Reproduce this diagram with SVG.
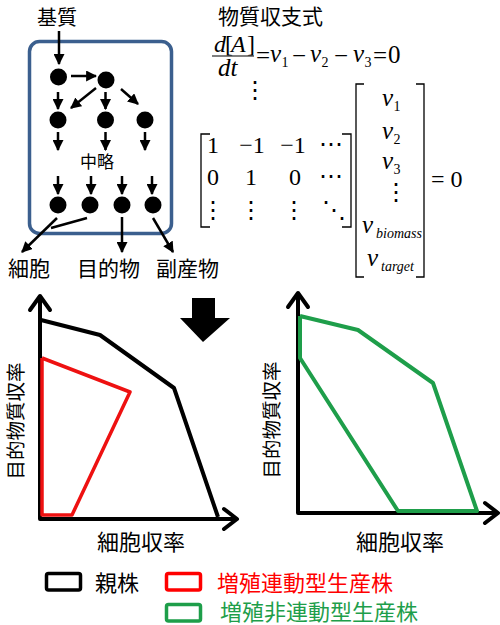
<svg xmlns="http://www.w3.org/2000/svg" width="500" height="625" viewBox="0 0 500 625">
<defs>
<marker id="ah" markerUnits="userSpaceOnUse" markerWidth="11" markerHeight="11" viewBox="0 0 10 10" refX="9" refY="5" orient="auto">
<path d="M0,0 L10,5 L0,10 Z" fill="#000"/>
</marker>
</defs>
<style>
.jp{font-family:"Noto Sans CJK JP","Noto Sans",sans-serif;fill:#000}
.m{font-family:"Liberation Serif","Times New Roman",serif;fill:#000}
.i{font-style:italic}
.ar{stroke:#000;stroke-width:2.5;fill:none;marker-end:url(#ah)}
.ln{stroke:#000;stroke-width:2.5;fill:none}
.nd{fill:#000}
.ax{stroke:#000;stroke-width:4;fill:none;stroke-linecap:round;stroke-linejoin:round}
.br{stroke:#000;stroke-width:1.3;fill:none}
</style>

<!-- Network -->
<g id="cell-box"><rect x="29.5" y="41.5" width="142" height="192" rx="10" fill="none" stroke="#3b5f8e" stroke-width="3.5"/></g>
<g id="label-substrate"><text class="jp" x="37" y="25" font-size="20">基質</text></g>
<g id="nodes">
<circle id="n1" class="nd" cx="58.5" cy="77" r="8.5"/>
<circle id="n2" class="nd" cx="106" cy="80" r="8.5"/>
<circle id="n3" class="nd" cx="58" cy="120" r="8.5"/>
<circle id="n4" class="nd" cx="105.5" cy="120" r="8.5"/>
<circle id="n5" class="nd" cx="145" cy="120" r="8.5"/>
<circle id="n6" class="nd" cx="58" cy="205" r="8.5"/>
<circle id="n7" class="nd" cx="90" cy="205" r="8.5"/>
<circle id="n8" class="nd" cx="122" cy="205" r="8.5"/>
<circle id="n9" class="nd" cx="153" cy="205" r="8.5"/>
</g>
<g id="label-omit"><text class="jp" x="97" y="168" font-size="17" text-anchor="middle">中略</text></g>
<g id="connectors">
<line class="ar" x1="59" y1="31" x2="59" y2="64"/>
<line class="ar" x1="71" y1="76" x2="96" y2="76"/>
<line class="ar" x1="58" y1="92" x2="58" y2="109"/>
<line class="ar" x1="96" y1="88" x2="71" y2="108"/>
<line class="ar" x1="105.5" y1="92" x2="105.5" y2="109"/>
<line class="ar" x1="121" y1="89" x2="138" y2="104"/>
<line class="ar" x1="58" y1="132" x2="58" y2="150"/>
<line class="ar" x1="105.5" y1="132" x2="105.5" y2="150"/>
<line class="ar" x1="145" y1="132" x2="145" y2="150"/>
<line class="ar" x1="58" y1="176" x2="58" y2="194"/>
<line class="ar" x1="91" y1="176" x2="91" y2="194"/>
<line class="ar" x1="122" y1="176" x2="122" y2="194"/>
<line class="ar" x1="152" y1="176" x2="152" y2="194"/>
<line class="ar" x1="57" y1="218" x2="22" y2="252"/>
<line class="ln" x1="87" y1="218" x2="51" y2="228"/>
<line class="ar" x1="122" y1="217" x2="122" y2="252"/>
<line class="ar" x1="153" y1="218" x2="173" y2="252"/>
</g>
<g id="outputs">
<text class="jp" x="8" y="276" font-size="21">細胞</text>
<text class="jp" x="77" y="276" font-size="21">目的物</text>
<text class="jp" x="156" y="276" font-size="21">副産物</text>
</g>

<!-- Equations -->
<g id="mass-balance">
<text class="jp" x="218" y="24" font-size="21">物質収支式</text>
<text class="m" font-size="24"><tspan class="i" x="214" y="52">d</tspan><tspan x="225" y="52">[</tspan><tspan class="i" x="231" y="52">A</tspan><tspan x="247" y="52">]</tspan></text>
<line x1="212" y1="56" x2="254" y2="56" stroke="#000" stroke-width="1.2"/>
<text class="m i" x="218" y="76" font-size="25">dt</text>
<text class="m" font-size="25">
<tspan x="256" y="64">=</tspan>
<tspan class="i" x="270" y="62">v</tspan><tspan x="281.5" y="67" font-size="14">1</tspan>
<tspan x="292" y="64">−</tspan>
<tspan class="i" x="310" y="62">v</tspan><tspan x="321.5" y="67" font-size="14">2</tspan>
<tspan x="334" y="64">−</tspan>
<tspan class="i" x="353" y="62">v</tspan><tspan x="364.5" y="67" font-size="14">3</tspan>
<tspan x="373" y="64">=</tspan>
<tspan x="388" y="63">0</tspan>
</text>
<text class="m" x="255" y="98" font-size="24" text-anchor="middle">⋮</text>
</g>
<g id="matrix">
<path class="br" d="M210,134 H201 V227 H210"/>
<path class="br" d="M342,134 H351 V227 H342"/>
<text class="m" font-size="24" text-anchor="middle">
<tspan x="213" y="153">1</tspan><tspan x="252" y="153">−1</tspan><tspan x="293" y="153">−1</tspan><tspan x="334" y="152">⋯</tspan>
<tspan x="213" y="185">0</tspan><tspan x="251" y="185">1</tspan><tspan x="295" y="185">0</tspan><tspan x="334" y="184">⋯</tspan>
<tspan x="213" y="218">⋮</tspan><tspan x="251" y="218">⋮</tspan><tspan x="294" y="218">⋮</tspan><tspan x="334" y="218">⋱</tspan>
</text>
</g>
<g id="vector">
<path class="br" d="M364,84 H356 V277 H364"/>
<path class="br" d="M416,84 H424 V277 H416"/>
<text class="m" font-size="25">
<tspan class="i" x="382" y="106">v</tspan><tspan x="393.5" y="111" font-size="14">1</tspan>
<tspan class="i" x="382" y="139">v</tspan><tspan x="393.5" y="144" font-size="14">2</tspan>
<tspan class="i" x="382" y="169">v</tspan><tspan x="393.5" y="174" font-size="14">3</tspan>
<tspan x="384" y="200" font-size="24">⋮</tspan>
<tspan class="i" x="362" y="233">v</tspan><tspan class="i" x="376" y="238" font-size="14">biomass</tspan>
<tspan class="i" x="367" y="266">v</tspan><tspan class="i" x="381" y="271" font-size="14">target</tspan>
</text>
<text class="m" x="431" y="187" font-size="24">= 0</text>
</g>

<!-- Big arrow -->
<g id="big-arrow"><polygon points="192,298 215,298 215,318 230,318 203,342 180,318 192,318" fill="#000"/></g>

<!-- Left chart -->
<g id="chart-left">
<polyline class="ax" points="40,300 40,519 234,519"/>
<polyline class="ax" points="30,310 40,296 50,310"/>
<polyline class="ax" points="224,509 237,519 224,529"/>
<polyline points="41,320 100,335 174,388 218,517" fill="none" stroke="#000" stroke-width="4" stroke-linejoin="round"/>
<polyline points="42,358 130,392 72,515 42,515 42,358" fill="none" stroke="#ee1111" stroke-width="3.5" stroke-linejoin="round"/>
<text class="jp" x="141" y="550" font-size="22" text-anchor="middle">細胞収率</text>
<text class="jp" transform="translate(23,421) rotate(-90)" font-size="19.5" text-anchor="middle">目的物質収率</text>
</g>

<!-- Right chart -->
<g id="chart-right">
<polyline class="ax" points="298,297 298,513 494,513"/>
<polyline class="ax" points="288,307 298,293 308,307"/>
<polyline class="ax" points="485,503 498,513 485,523"/>
<polyline points="300,316 358,330 433,383 477,511 398,511 300,358 300,316" fill="none" stroke="#1e9e4a" stroke-width="4" stroke-linejoin="round"/>
<text class="jp" x="400" y="550" font-size="22" text-anchor="middle">細胞収率</text>
<text class="jp" transform="translate(279,420) rotate(-90)" font-size="19.5" text-anchor="middle">目的物質収率</text>
</g>

<!-- Legend -->
<g id="legend">
<rect x="46.5" y="573.5" width="34" height="16.5" rx="2" fill="none" stroke="#000" stroke-width="3.5"/>
<text class="jp" x="95" y="591" font-size="22">親株</text>
<rect x="166.5" y="573.5" width="34" height="16.5" rx="2" fill="none" stroke="#ff0000" stroke-width="3.5"/>
<text class="jp" x="217" y="591" font-size="22" style="fill:#ff0000">増殖連動型生産株</text>
<rect x="166.5" y="604.5" width="34" height="16.5" rx="2" fill="none" stroke="#1e9e4a" stroke-width="3.5"/>
<text class="jp" x="220" y="620" font-size="22" style="fill:#1e9e4a">増殖非連動型生産株</text>
</g>
</svg>
